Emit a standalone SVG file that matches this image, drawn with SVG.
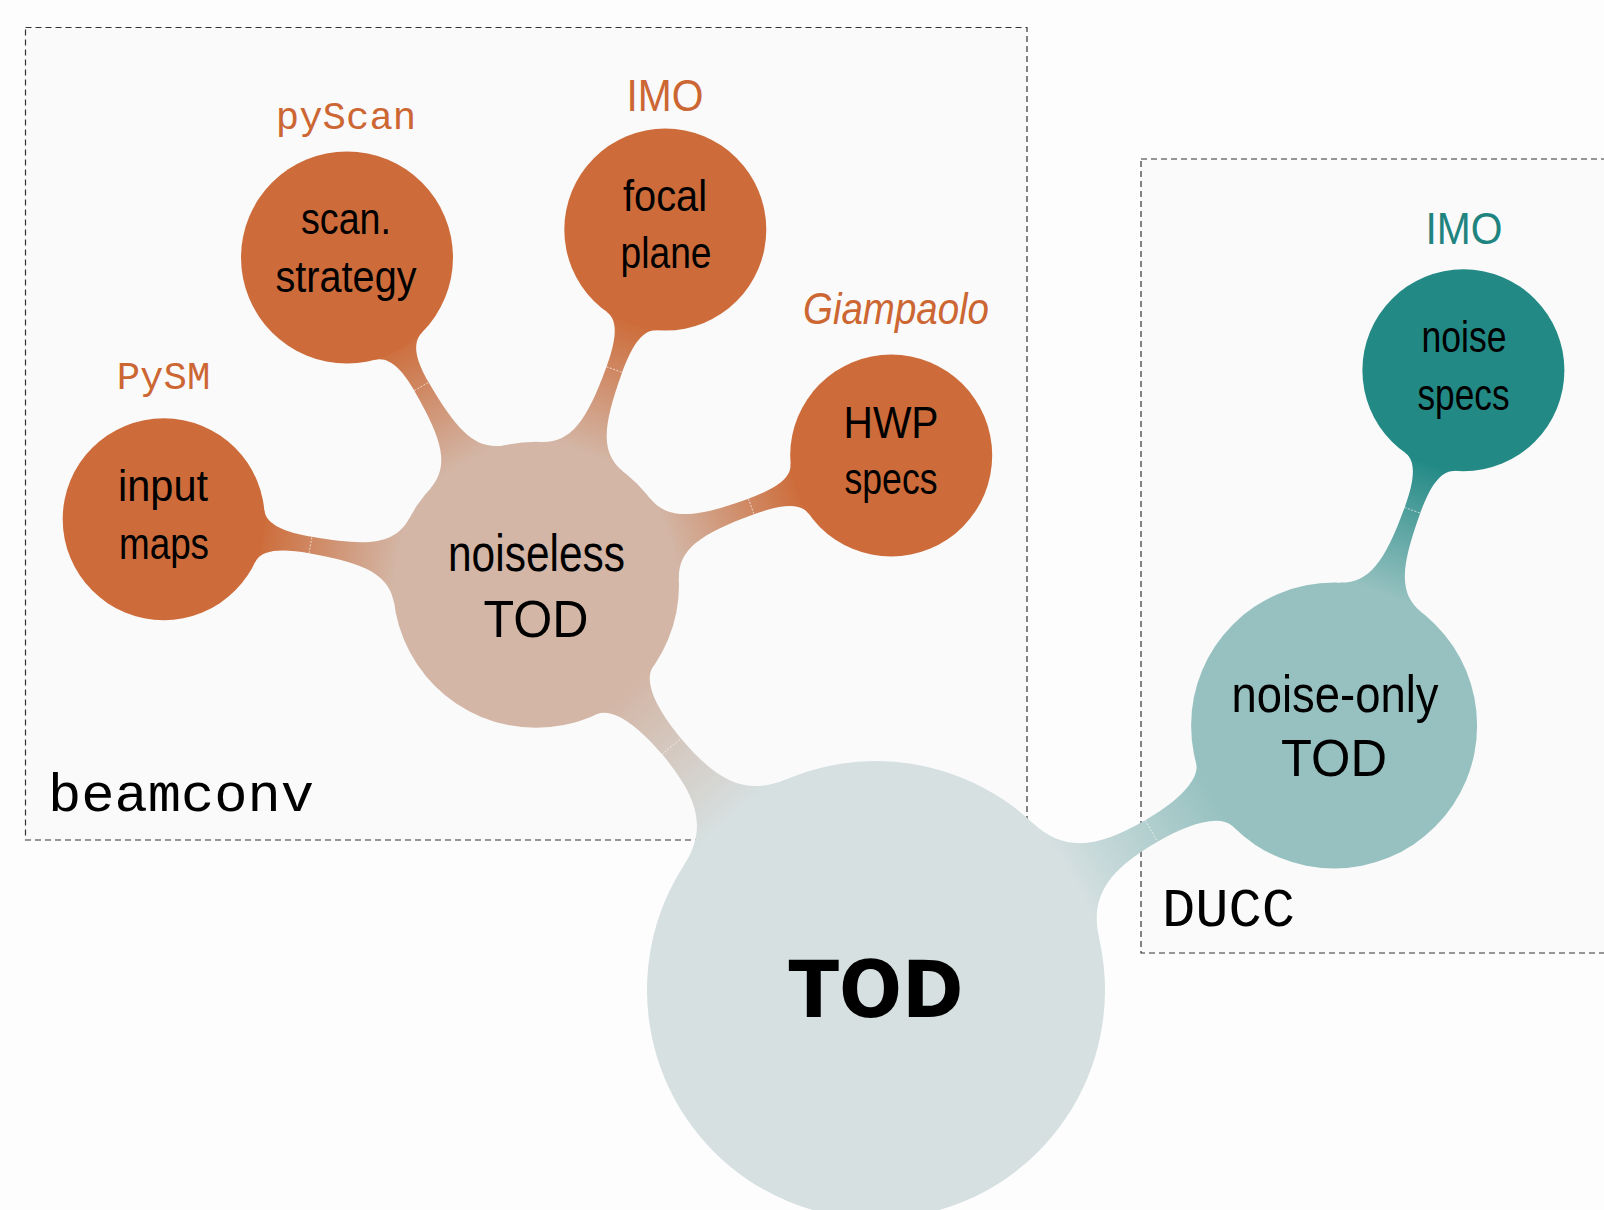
<svg xmlns="http://www.w3.org/2000/svg" width="1604" height="1210" viewBox="0 0 1604 1210">
<defs>
<style>
.bg{fill:#fdfdfd}
.box{fill:#fafafa;stroke:#333;stroke-width:1.2;stroke-dasharray:6 4}
.t{font-family:"Liberation Sans",Arial,sans-serif;text-anchor:middle;fill:#000}
.n2{font-size:44px}
.n1{font-size:52px}
.lab{font-size:44px}
.mono{font-family:"Liberation Mono","Courier New",monospace}
.org{fill:#cc6633}
.tl{fill:#1f8480}
.seam{stroke:#fff;stroke-width:0.8;stroke-dasharray:2 1.5;opacity:.75}
.orange{fill:#cd6c3a}
.teal{fill:#228985}
</style>
<linearGradient id="gOr" gradientUnits="userSpaceOnUse" x1="140" y1="0" x2="280" y2="0"><stop offset="0" stop-color="#d3b6a6"/><stop offset="1" stop-color="#cd6c3a"/></linearGradient>
<linearGradient id="gTn" gradientUnits="userSpaceOnUse" x1="222" y1="0" x2="390" y2="0"><stop offset="0" stop-color="#d6e0e1"/><stop offset="1" stop-color="#d3b6a6"/></linearGradient>
<linearGradient id="gTq" gradientUnits="userSpaceOnUse" x1="222" y1="0" x2="390" y2="0"><stop offset="0" stop-color="#d6e0e1"/><stop offset="1" stop-color="#96c1c0"/></linearGradient>
<linearGradient id="gQq" gradientUnits="userSpaceOnUse" x1="140" y1="0" x2="280" y2="0"><stop offset="0" stop-color="#96c1c0"/><stop offset="1" stop-color="#228985"/></linearGradient>
</defs>
<rect class="bg" x="0" y="0" width="1604" height="1210"/>
<g id="beamconv-box">
<rect class="box" x="25.5" y="27.5" width="1001.5" height="812.5"/>
<text class="mono" x="48" y="811" font-size="54" textLength="266" lengthAdjust="spacingAndGlyphs">beamconv</text>
</g>
<g id="ducc-box">
<rect class="box" x="1141" y="159" width="500" height="794"/>
<text class="mono" x="1162" y="926" font-size="54" textLength="133" lengthAdjust="spacingAndGlyphs">DUCC</text>
</g>
<g id="connectors">
<g transform="translate(876,990) rotate(-130)">
<path fill="url(#gTn)" d="M219,-67 C232,-25 262,-12.4 318,-12.4 C350,-12.4 384,-18 390.6,-35.8 L450,-40 L450,40 L390.6,35.8 C384,18 350,12.4 318,12.4 C262,12.4 232,25 219,67 L180,0 Z"/>
<line class="seam" x1="318" y1="-12.4" x2="318" y2="12.4"/>
</g>
<g transform="translate(876,990) rotate(-30)">
<path fill="url(#gTq)" d="M219,-67 C232,-25 262,-12.4 318,-12.4 C350,-12.4 384,-18 390.6,-35.8 L450,-40 L450,40 L390.6,35.8 C384,18 350,12.4 318,12.4 C262,12.4 232,25 219,67 L180,0 Z"/>
<line class="seam" x1="318" y1="-12.4" x2="318" y2="12.4"/>
</g>
<g transform="translate(536,584.8) rotate(-170)">
<path fill="url(#gOr)" d="M136.4,-43 C146,-16 170,-8.3 229,-8.3 C255,-8.3 276,-12 280.4,-26.1 L330,-30 L330,30 L280.4,26.1 C276,12 255,8.3 229,8.3 C170,8.3 146,16 136.4,43 L100,0 Z"/>
<line class="seam" x1="229" y1="-8.3" x2="229" y2="8.3"/>
</g>
<g transform="translate(536,584.8) rotate(-120)">
<path fill="url(#gOr)" d="M136.4,-43 C146,-16 170,-8.3 229,-8.3 C252,-8.3 271,-12 275.6,-27.4 L330,-30 L330,30 L275.6,27.4 C271,12 252,8.3 229,8.3 C170,8.3 146,16 136.4,43 L100,0 Z"/>
<line class="seam" x1="229" y1="-8.3" x2="229" y2="8.3"/>
</g>
<g transform="translate(536,584.8) rotate(-70)">
<path fill="url(#gOr)" d="M136.4,-43 C146,-16 170,-8.3 229,-8.3 C255,-8.3 276,-12 280.4,-26.1 L330,-30 L330,30 L280.4,26.1 C276,12 255,8.3 229,8.3 C170,8.3 146,16 136.4,43 L100,0 Z"/>
<line class="seam" x1="229" y1="-8.3" x2="229" y2="8.3"/>
</g>
<g transform="translate(536,584.8) rotate(-20)">
<path fill="url(#gOr)" d="M136.4,-43 C146,-16 170,-8.3 229,-8.3 C255,-8.3 276,-12 280.4,-26.1 L330,-30 L330,30 L280.4,26.1 C276,12 255,8.3 229,8.3 C170,8.3 146,16 136.4,43 L100,0 Z"/>
<line class="seam" x1="229" y1="-8.3" x2="229" y2="8.3"/>
</g>
<g transform="translate(1334.1,725.5) rotate(-70)">
<path fill="url(#gQq)" d="M136.4,-43 C146,-16 170,-8.3 229,-8.3 C255,-8.3 276,-12 280.4,-26.1 L330,-30 L330,30 L280.4,26.1 C276,12 255,8.3 229,8.3 C170,8.3 146,16 136.4,43 L100,0 Z"/>
<line class="seam" x1="229" y1="-8.3" x2="229" y2="8.3"/>
</g>
</g>
<g id="tod">
<circle cx="876" cy="990" r="229" fill="#d6e0e1"/>
<text x="876" y="1017" text-anchor="middle" font-family="'DejaVu Sans',sans-serif" font-weight="bold" font-size="78" textLength="175" lengthAdjust="spacingAndGlyphs">TOD</text>
</g>
<g id="noiseless-tod">
<circle cx="536" cy="584.8" r="143" fill="#d3b6a6"/>
<text class="t n1" x="536.5" y="570.7" textLength="177" lengthAdjust="spacingAndGlyphs">noiseless</text>
<text class="t n1" x="536" y="636.7" textLength="105" lengthAdjust="spacingAndGlyphs">TOD</text>
</g>
<g id="noise-only-tod">
<circle cx="1334.1" cy="725.5" r="143" fill="#96c1c0"/>
<text class="t n1" x="1335" y="711.7" textLength="207" lengthAdjust="spacingAndGlyphs">noise-only</text>
<text class="t n1" x="1334" y="776" textLength="106" lengthAdjust="spacingAndGlyphs">TOD</text>
</g>
<g id="input-maps">
<circle class="orange" cx="163.7" cy="519.2" r="101"/>
<text class="t n2" x="163" y="501" textLength="90" lengthAdjust="spacingAndGlyphs">input</text>
<text class="t n2" x="164" y="559" textLength="90" lengthAdjust="spacingAndGlyphs">maps</text>
<text class="t mono org" x="163.5" y="389" font-size="39">PySM</text>
</g>
<g id="scan-strategy">
<circle class="orange" cx="347" cy="257.5" r="106"/>
<text class="t n2" x="346" y="234" textLength="90" lengthAdjust="spacingAndGlyphs">scan.</text>
<text class="t n2" x="346" y="291.6" textLength="141" lengthAdjust="spacingAndGlyphs">strategy</text>
<text class="t mono org" x="346" y="129" font-size="39">pyScan</text>
</g>
<g id="focal-plane">
<circle class="orange" cx="665.3" cy="229.6" r="101"/>
<text class="t n2" x="665" y="211" textLength="84" lengthAdjust="spacingAndGlyphs">focal</text>
<text class="t n2" x="666" y="268" textLength="91" lengthAdjust="spacingAndGlyphs">plane</text>
<text class="t lab org" x="665" y="111" textLength="77" lengthAdjust="spacingAndGlyphs">IMO</text>
</g>
<g id="hwp-specs">
<circle class="orange" cx="891.2" cy="455.5" r="101"/>
<text class="t n2" x="891" y="438" textLength="95" lengthAdjust="spacingAndGlyphs">HWP</text>
<text class="t n2" x="891" y="494" textLength="93" lengthAdjust="spacingAndGlyphs">specs</text>
<text class="t lab org" x="896" y="324" font-style="italic" textLength="186" lengthAdjust="spacingAndGlyphs">Giampaolo</text>
</g>
<g id="noise-specs">
<circle class="teal" cx="1463.4" cy="370.3" r="101"/>
<text class="t n2" x="1464" y="352" textLength="85" lengthAdjust="spacingAndGlyphs">noise</text>
<text class="t n2" x="1463.5" y="409.6" textLength="92" lengthAdjust="spacingAndGlyphs">specs</text>
<text class="t lab tl" x="1464" y="244" textLength="77" lengthAdjust="spacingAndGlyphs">IMO</text>
</g>
</svg>
